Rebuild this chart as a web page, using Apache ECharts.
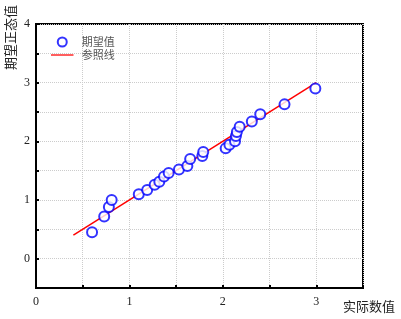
<!DOCTYPE html>
<html>
<head>
<meta charset="utf-8">
<script src="https://cdn.jsdelivr.net/npm/echarts@6/dist/echarts.min.js"></script>
<style>
  html, body { margin: 0; padding: 0; background: #fff; }
  #main { width: 401px; height: 319px; }
</style>
</head>
<body>
<div id="main"></div>
<script>
// 实际数值 / 期望正态值
var actualValues = [0.60, 0.73, 0.78, 0.81, 1.10, 1.19, 1.27, 1.32, 1.37, 1.42, 1.53, 1.62, 1.65, 1.78, 1.79, 2.03, 2.07, 2.13, 2.14, 2.15, 2.18, 2.31, 2.40, 2.66, 2.99];
var expectedValues = [0.45, 0.72, 0.88, 1.00, 1.10, 1.17, 1.26, 1.31, 1.40, 1.46, 1.52, 1.58, 1.70, 1.75, 1.82, 1.88, 1.94, 2.00, 2.09, 2.16, 2.25, 2.34, 2.46, 2.63, 2.90];
var refLineX = [0.4, 3];
var refLineY = [0.4, 3];

var scatterData = actualValues.map(function (x, i) { return [x, expectedValues[i]]; });
var lineData = refLineX.map(function (x, i) { return [x, refLineY[i]]; });

var labelFont = 'Liberation Serif';
var cjkFont = 'Noto Sans CJK SC';
var intOnly = function (v) { return Math.abs(v - Math.round(v)) < 1e-6 ? String(Math.round(v)) : ''; };

var myChart = echarts.init(document.getElementById('main'));
var option = {
    animation: false,
    grid: {
        left: 36, right: 38, top: 24, bottom: 31,
        show: true, borderColor: '#000', borderWidth: 2
    },
    legend: {
        orient: 'vertical',
        left: 51, top: 36, padding: 0,
        itemWidth: 25, itemHeight: 9, itemGap: 1,
        textStyle: { fontSize: 11, lineHeight: 12, color: '#555', fontFamily: cjkFont, padding: [0, 0, 0, 2] },
        data: [
            { name: '期望值' },
            // thin line icon, the M0,0 / M25,10 points keep the box 25x10
            { name: '参照线', icon: 'path://M0,0L0,0M0,4.3L25,4.3L25,5.7L0,5.7ZM25,10L25,10' }
        ]
    },
    graphic: [{
        type: 'text', x: 3.5, y: 70, rotation: Math.PI / 2,
        style: { text: '期望正态值', fontSize: 13, fill: '#222', fontFamily: cjkFont, verticalAlign: 'top' }
    }],
    xAxis: {
        type: 'value', min: 0, max: 3.5, interval: 0.5,
        name: '实际数值', nameLocation: 'end', nameGap: -20, nameMoveOverlap: false,
        nameTextStyle: { fontSize: 13, color: '#222', fontFamily: cjkFont, verticalAlign: 'top', padding: [12, 0, 0, 0] },
        axisLine: { onZero: false, lineStyle: { color: '#000', width: 2 } },
        axisTick: { inside: true, length: 3, lineStyle: { color: '#000', width: 2 } },
        axisLabel: { formatter: intOnly, fontFamily: labelFont, fontSize: 12, color: '#222', margin: 8 },
        splitLine: { lineStyle: { color: '#ccc', type: 'dotted', width: 1 } }
    },
    yAxis: {
        type: 'value', min: -0.5, max: 4, interval: 0.5,
        axisLine: { onZero: false, lineStyle: { color: '#000', width: 2 } },
        axisTick: { inside: true, length: 3, lineStyle: { color: '#000', width: 2 } },
        axisLabel: { formatter: intOnly, fontFamily: labelFont, fontSize: 12, color: '#222', margin: 6 },
        splitLine: { lineStyle: { color: '#ccc', type: 'dotted', width: 1 } }
    },
    series: [
        {
            name: '期望值', type: 'scatter', data: scatterData,
            symbol: 'emptyCircle', symbolSize: 10,
            itemStyle: { color: '#0000ff', borderColor: '#0000ff', borderWidth: 2 },
            z: 3
        },
        {
            name: '参照线', type: 'line', data: lineData,
            symbol: 'none',
            lineStyle: { color: '#ff0000', width: 1.5 },
            itemStyle: { color: '#ff0000' },
            z: 2
        }
    ]
};
myChart.setOption(option);
</script>
</body>
</html>
